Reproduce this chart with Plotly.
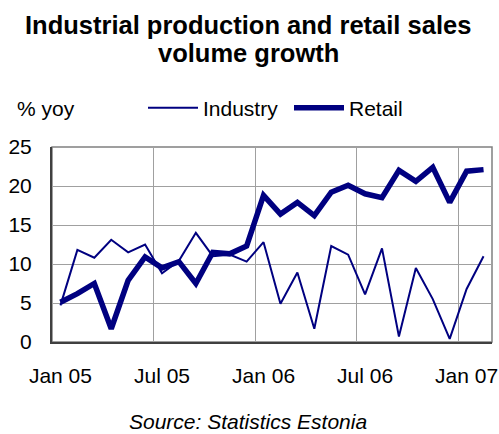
import plotly.graph_objects as go

months = ["Jan 05","Feb 05","Mar 05","Apr 05","May 05","Jun 05","Jul 05","Aug 05","Sep 05","Oct 05","Nov 05","Dec 05",
          "Jan 06","Feb 06","Mar 06","Apr 06","May 06","Jun 06","Jul 06","Aug 06","Sep 06","Oct 06","Nov 06","Dec 06",
          "Jan 07","Feb 07"]
industry = [4.7, 11.8, 10.8, 13.1, 11.5, 12.5, 8.8, 10.4, 14.0, 11.0, 11.2, 10.3,
            12.8, 4.9, 8.9, 1.7, 12.3, 11.2, 6.1, 12.0, 0.7, 9.5, 5.5, 0.4,
            6.8, 11.0]
retail = [5.1, 6.2, 7.5, 1.7, 7.9, 10.9, 9.5, 10.3, 7.5, 11.5, 11.3, 12.3,
          18.8, 16.4, 17.9, 16.2, 19.2, 20.1, 19.0, 18.5, 22.0, 20.6, 22.4, 17.9,
          21.9, 22.1]
tick_labels = ["Jan 05", "Jul 05", "Jan 06", "Jul 06", "Jan 07"]
tick_idx = [months.index(t) for t in tick_labels]
x = list(range(len(months)))

FONT = "Arial, Liberation Sans, sans-serif"
NAVY = "#000080"

W, H = 499, 434
L, R, T, B = 52, 7, 147, 92
pw, ph = W - L - R, H - T - B
def px(xp): return (xp - L) / pw
def py(yp): return (H - B - yp) / ph

fig = go.Figure()
fig.add_trace(go.Scatter(x=x, y=industry, name="Industry", mode="lines",
                         line=dict(color=NAVY, width=2)))
fig.add_trace(go.Scatter(x=x, y=retail, name="Retail", mode="lines",
                         line=dict(color=NAVY, width=5.5)))

fig.update_layout(
    width=W, height=H,
    margin=dict(l=L, r=R, t=T, b=B, autoexpand=False),
    paper_bgcolor="white", plot_bgcolor="white",
    font=dict(family=FONT, size=21, color="black"),
    showlegend=True,
    legend=dict(orientation="h", x=px(143), xanchor="left", y=py(108), yanchor="middle",
                font=dict(size=21), bgcolor="rgba(0,0,0,0)",
                entrywidth=81, entrywidthmode="pixels", itemwidth=50),
    annotations=[
        dict(text="<b>Industrial production and retail sales</b>", x=px(248), xref="paper",
             xanchor="center", y=py(25), yref="paper", yanchor="middle",
             showarrow=False, font=dict(size=25.5)),
        dict(text="<b>volume growth</b>", x=px(248), xref="paper", xanchor="center",
             y=py(53), yref="paper", yanchor="middle", showarrow=False, font=dict(size=25.5)),
        dict(text="% yoy", x=px(15), xref="paper", xanchor="left", y=py(108), yref="paper",
             yanchor="middle", showarrow=False, font=dict(size=21)),
        dict(text="<i>Source: Statistics Estonia</i>", x=px(248), xref="paper", xanchor="center",
             y=py(421), yref="paper", yanchor="middle", showarrow=False, font=dict(size=21)),
    ],
)

fig.update_xaxes(range=[-0.5, len(months) - 0.5], tickmode="array", tickvals=tick_idx,
                 ticktext=tick_labels, showgrid=False, ticks="", zeroline=False,
                 showline=True, linecolor="#404040", linewidth=2, ticklabelstandoff=14,
                 minor=dict(showgrid=True, gridcolor="#A0A0A0", gridwidth=1,
                            tickmode="array", tickvals=[i - 0.5 for i in tick_idx[1:]]))
fig.update_yaxes(range=[0, 25], dtick=5, showgrid=True, gridcolor="#A0A0A0", gridwidth=1,
                 zeroline=False, showline=True, linecolor="#404040", linewidth=2,
                 ticks="", ticklabelstandoff=14)
fig.add_shape(type="rect", xref="paper", yref="paper", x0=0, x1=1, y0=0, y1=1,
              line=dict(color="#808080", width=1.5), layer="below")

fig.write_html("out.html", config={"displayModeBar": False},
               post_script="document.body.style.margin='0';")
